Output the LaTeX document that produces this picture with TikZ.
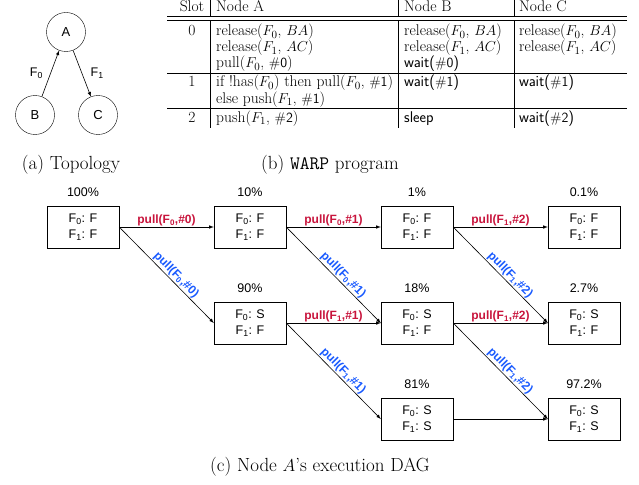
\documentclass[tikz,border=0pt]{standalone}
\usepackage{fontspec}
\usepackage{amsmath}
\usepackage{xcolor}
\usepackage{tikz}
\usetikzlibrary{positioning}
\newfontfamily\arialfont{Liberation Sans}
\definecolor{pullred}{RGB}{200,20,60}
\definecolor{pullblue}{RGB}{25,90,255}
\tikzstyle{site} = [circle, draw=black, minimum size=39pt, inner sep=0pt, font=\arialfont\fontsize{13}{15}\selectfont]
\tikzstyle{state} = [rectangle, draw=black, minimum width=72pt, minimum height=42pt, align=center, font=\arialfont\fontsize{12.5}{16}\selectfont]
\tikzstyle{pct} = [font=\arialfont\fontsize{12.5}{15}\selectfont]
\tikzstyle{cell} = [anchor=base west, inner sep=0pt, font=\fontsize{15.5}{16}\selectfont]
\tikzstyle{caption} = [anchor=base, inner sep=0pt, font=\fontsize{19}{22}\selectfont]
\tikzstyle{arrow} = [->,>=latex, line width=0.6pt]
\tikzstyle{rule} = [line width=0.6pt]
\tikzstyle{redlbl} = [above, inner sep=1pt, text=pullred, font=\arialfont\bfseries\fontsize{12}{14}\selectfont]
\tikzstyle{bluelbl} = [above, sloped, pos=0.55, inner sep=1pt, text=pullblue, font=\arialfont\bfseries\fontsize{12}{14}\selectfont]
\newcommand{\Fs}[1]{F\textsubscript{#1}}
\newcommand{\slotno}[1]{{\sffamily\fontsize{14}{16}\selectfont\##1}}

\begin{document}
\begin{tikzpicture}[x=1pt, y=-1pt, node distance=167pt]
		\useasboundingbox (0,0) rectangle (639,484);
		% (a) topology
		\node (A) [site] at (66,32) {A};
		\node (B) [site, node distance=83pt, below of=A, xshift=-31pt] {B};
		\node (C) [site, node distance=83pt, below of=A, xshift=32pt] {C};
		\draw [arrow](B) -- node[left=4pt, font=\arialfont\fontsize{12.5}{15}\selectfont] {\Fs0} (A);
		\draw [arrow](A) -- node[right=5pt, font=\arialfont\fontsize{12.5}{15}\selectfont] {\Fs1} (C);
		\node (capa) [caption] at (71,169) {(a) Topology};
		
		% (b) program table
		\draw [rule] (167,16.5) -- (627,16.5);
		\draw [rule] (167,20.5) -- (627,20.5);
		\draw [rule] (167,73) -- (627,73);
		\draw [rule] (167,108) -- (627,108);
		\foreach \x in {210,398,514}{
			\draw [rule] (\x,0) -- (\x,16.5);
			\draw [rule] (\x,20.5) -- (\x,128);
		}
		\node (hslot) [cell, anchor=base] at (192,12) {Slot};
		\node (ha) [cell] at (216,12) {Node A};
		\node (hb) [cell] at (404,12) {Node B};
		\node (hc) [cell] at (519,12) {Node C};
		
		\node (slot0) [cell, anchor=base] at (192,36) {0};
		\node (a01) [cell] at (216,36) {release($F_0$, $BA$)};
		\node (a02) [cell] at (216,52) {release($F_1$, $AC$)};
		\node (a03) [cell] at (216,68) {pull($F_0$, \slotno0)};
		\node (b01) [cell] at (404,36) {release($F_0$, $BA$)};
		\node (b02) [cell] at (404,52) {release($F_1$, $AC$)};
		\node (b03) [cell] at (404,68) {\textsf{wait(\slotno0)}};
		\node (c01) [cell] at (519,36) {release($F_0$, $BA$)};
		\node (c02) [cell] at (519,52) {release($F_1$, $AC$)};
		
		\node (slot1) [cell, anchor=base] at (192,87) {1};
		\node (a11) [cell] at (216,87) {if !has($F_0$) then pull($F_0$, \slotno1)};
		\node (a12) [cell] at (216,103) {else push($F_1$, \slotno1)};
		\node (b11) [cell] at (404,87) {\textsf{wait(\slotno1)}};
		\node (c11) [cell] at (519,87) {\textsf{wait(\slotno1)}};
		
		\node (slot2) [cell, anchor=base] at (192,122) {2};
		\node (a21) [cell] at (216,122) {push($F_1$, \slotno2)};
		\node (b21) [cell] at (404,122) {\textsf{sleep}};
		\node (c21) [cell] at (519,122) {\textsf{wait(\slotno2)}};
		\node (capb) [caption] at (330,169) {(b) \texttt{WARP} program};
		
		% (c) execution DAG
		\node (s00) [state] at (83,227) {\Fs0: F\\\Fs1: F};
		\node (s01) [state, right of=s00] {\Fs0: F\\\Fs1: F};
		\node (s02) [state, right of=s01] {\Fs0: F\\\Fs1: F};
		\node (s03) [state, right of=s02] {\Fs0: F\\\Fs1: F};
		\node (s11) [state, node distance=96pt, below of=s01] {\Fs0: S\\\Fs1: F};
		\node (s12) [state, right of=s11] {\Fs0: S\\\Fs1: F};
		\node (s13) [state, right of=s12] {\Fs0: S\\\Fs1: F};
		\node (s22) [state, node distance=96pt, below of=s12] {\Fs0: S\\\Fs1: S};
		\node (s23) [state, right of=s22] {\Fs0: S\\\Fs1: S};
		
		\node (p00) [pct, above=6pt of s00] {100\%};
		\node (p01) [pct, above=6pt of s01] {10\%};
		\node (p02) [pct, above=6pt of s02] {1\%};
		\node (p03) [pct, above=6pt of s03] {0.1\%};
		\node (p11) [pct, above=6pt of s11] {90\%};
		\node (p12) [pct, above=6pt of s12] {18\%};
		\node (p13) [pct, above=6pt of s13] {2.7\%};
		\node (p22) [pct, above=6pt of s22] {81\%};
		\node (p23) [pct, above=6pt of s23] {97.2\%};
		
		\draw [arrow](s00.east) -- node[redlbl] {pull(\Fs0,\#0)} (s01.west);
		\draw [arrow](s00.east) -- node[bluelbl] {pull(\Fs0,\#0)} (s11.west);
		\draw [arrow](s01.east) -- node[redlbl] {pull(\Fs0,\#1)} (s02.west);
		\draw [arrow](s01.east) -- node[bluelbl] {pull(\Fs0,\#1)} (s12.west);
		\draw [arrow](s11.east) -- node[redlbl] {pull(\Fs1,\#1)} (s12.west);
		\draw [arrow](s11.east) -- node[bluelbl] {pull(\Fs1,\#1)} (s22.west);
		\draw [arrow](s02.east) -- node[redlbl] {pull(\Fs1,\#2)} (s03.west);
		\draw [arrow](s02.east) -- node[bluelbl] {pull(\Fs1,\#2)} (s13.west);
		\draw [arrow](s12.east) -- node[redlbl] {pull(\Fs1,\#2)} (s13.west);
		\draw [arrow](s12.east) -- node[bluelbl] {pull(\Fs1,\#2)} (s23.west);
		\draw [arrow](s22.east) -- (s23.west);
		\node (capc) [caption] at (320,471) {(c) Node $A$'s execution DAG};
	\end{tikzpicture}
\end{document}
